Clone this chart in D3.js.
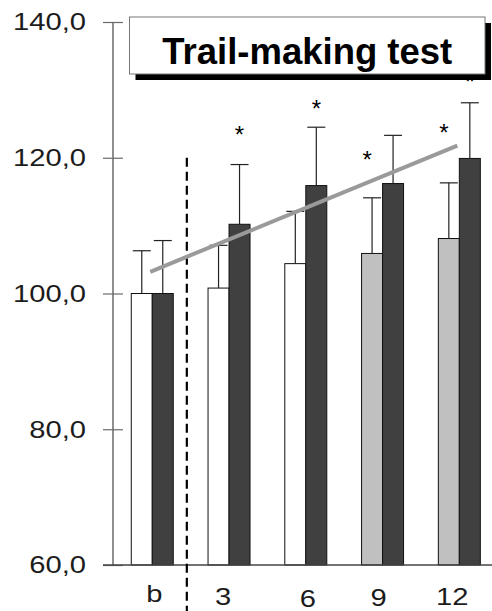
<!DOCTYPE html>
<html><head><meta charset="utf-8">
<script src="https://cdn.jsdelivr.net/npm/d3@7"></script>
<style>
html,body{margin:0;padding:0;background:#fff;}
svg{display:block;font-family:"Liberation Sans",Arial,sans-serif;}
</style></head>
<body><svg id="c" width="492" height="611"></svg>
<script>
// ---- data ----
const categories = ["b", "3", "6", "9", "12"];
const valuesA = [100, 100.8, 104.4, 105.9, 108.1];   // left bars (white / light gray)
const valuesB = [100, 110.2, 115.9, 116.2, 119.9];   // right bars (dark)
const errorsA = [6.3, 6.3, 7.7, 8.2, 8.2];
const errorsB = [7.8, 8.8, 8.6, 7.1, 8.2];
const starCats = ["3", "6", "9", "12", "12"];
const starSeries = ["B", "B", "A", "A", "B"];
const starValues = [124.1, 127.9, 120.4, 124.4, 131.9];
const trendCats = ["b", "12"];
const trendValues = [103.2, 121.8];
const yTicks = [60, 80, 100, 120, 140];
const title = "Trail-making test";

// ---- styles ----
const fillA = ["#ffffff", "#ffffff", "#ffffff", "#c0c0c0", "#c0c0c0"];
const fillB = "#404040";
const labelDx = [2, -6, 2, -4, -7];
const labelDy = [-3, 0, 2, 1, 0];
const stretch = 1.19;
const textFill = "#1c1c1c";

const svg = d3.select("#c");
const y = d3.scaleLinear().domain([60, 140]).range([565, 22]);
const x = d3.scaleBand().domain(categories).range([113, 498.6]).paddingInner(0.453).paddingOuter(0.238);
const sub = d3.scaleBand().domain(["A", "B"]).range([0, x.bandwidth()]);
const fmt = v => d3.format(".1f")(v).replace(".", ",");

function stretchText(sel) {
  sel.each(function () {
    const l = this.getComputedTextLength();
    d3.select(this).attr("textLength", l * stretch).attr("lengthAdjust", "spacingAndGlyphs");
  });
}

// y axis
const yAxis = svg.append("g").attr("transform", "translate(113,0)")
  .call(d3.axisLeft(y).tickValues(yTicks).tickSize(0).tickFormat(fmt))
  .attr("font-family", null).attr("font-size", null);
yAxis.select(".domain").remove();
yAxis.selectAll(".tick line").remove();
yAxis.selectAll(".tick").append("line").attr("x1", -10).attr("x2", 10).attr("stroke", "#6a6a6a").attr("stroke-width", 1.2);
yAxis.append("line").attr("y1", y(140)).attr("y2", y(60)).attr("stroke", "#6a6a6a").attr("stroke-width", 1.5);
yAxis.selectAll(".tick text").attr("x", -27).attr("font-size", 24.5).attr("fill", textFill)
  .call(stretchText);

// bars
const groups = svg.append("g").selectAll("g").data(categories).join("g")
  .attr("transform", d => `translate(${x(d)},0)`);
groups.append("rect").attr("x", sub("A")).attr("width", sub.bandwidth())
  .attr("y", (d, i) => y(valuesA[i])).attr("height", (d, i) => y(60) - y(valuesA[i]))
  .attr("fill", (d, i) => fillA[i]).attr("stroke", "#111").attr("stroke-width", 1);
groups.append("rect").attr("x", sub("B")).attr("width", sub.bandwidth())
  .attr("y", (d, i) => y(valuesB[i])).attr("height", (d, i) => y(60) - y(valuesB[i]))
  .attr("fill", fillB).attr("stroke", "#111").attr("stroke-width", 1);

// error bars
function err(series, vals, errs) {
  const cx = sub(series) + sub.bandwidth() / 2;
  groups.append("line").attr("x1", cx).attr("x2", cx)
    .attr("y1", (d, i) => y(vals[i])).attr("y2", (d, i) => y(vals[i] + errs[i]))
    .attr("stroke", "#222").attr("stroke-width", 1.2);
  groups.append("line").attr("x1", cx - 9).attr("x2", cx + 9)
    .attr("y1", (d, i) => y(vals[i] + errs[i])).attr("y2", (d, i) => y(vals[i] + errs[i]))
    .attr("stroke", "#222").attr("stroke-width", 1.2);
}
err("A", valuesA, errorsA);
err("B", valuesB, errorsB);

// x axis baseline
svg.append("line").attr("x1", 103).attr("x2", 492).attr("y1", y(60)).attr("y2", y(60))
  .attr("stroke", "#444").attr("stroke-width", 1.5);

// x labels
svg.append("g").selectAll("text").data(categories).join("text")
  .attr("x", (d, i) => x(d) + x.bandwidth() / 2 + labelDx[i]).attr("y", (d, i) => 605 + labelDy[i])
  .attr("text-anchor", "middle").attr("font-size", 24.5).attr("fill", textFill)
  .text(d => d).call(stretchText);

// dashed separator
const sepX = x("b") + x.bandwidth() + (x("3") - x("b") - x.bandwidth()) * 0.39;
svg.append("line").attr("x1", sepX).attr("x2", sepX).attr("y1", y(120)).attr("y2", 611)
  .attr("stroke", "#000").attr("stroke-width", 2.2).attr("stroke-dasharray", "9,5");

// trend line
const trendX = c => x(c) + x.bandwidth() / 2;
svg.append("path")
  .datum(trendCats.map((c, i) => [trendX(c) - 2, y(trendValues[i])]))
  .attr("d", d3.line()).attr("stroke", "#9a9a9a").attr("stroke-width", 4).attr("fill", "none");

// significance stars
svg.append("g").selectAll("text").data(starCats).join("text")
  .attr("x", (c, i) => x(c) + sub(starSeries[i]) + sub.bandwidth() / 2 - (starSeries[i] === "A" ? 5 : 0))
  .attr("y", (c, i) => y(starValues[i]) + 13)
  .attr("text-anchor", "middle").attr("font-size", 24).attr("fill", "#000").text("*");

// title box
const bx = 129.5, by = 17, bw = 355.5, bh = 57;
svg.append("rect").attr("x", bx + 6).attr("y", by + 6).attr("width", bw).attr("height", bh).attr("fill", "#000");
svg.append("rect").attr("x", bx).attr("y", by).attr("width", bw).attr("height", bh)
  .attr("fill", "#fff").attr("stroke", "#777").attr("stroke-width", 1);
svg.append("text").attr("x", bx + bw / 2).attr("y", 63.5).attr("text-anchor", "middle")
  .attr("font-size", 36.5).attr("font-weight", "bold").attr("fill", "#000").text(title);
</script></body></html>
